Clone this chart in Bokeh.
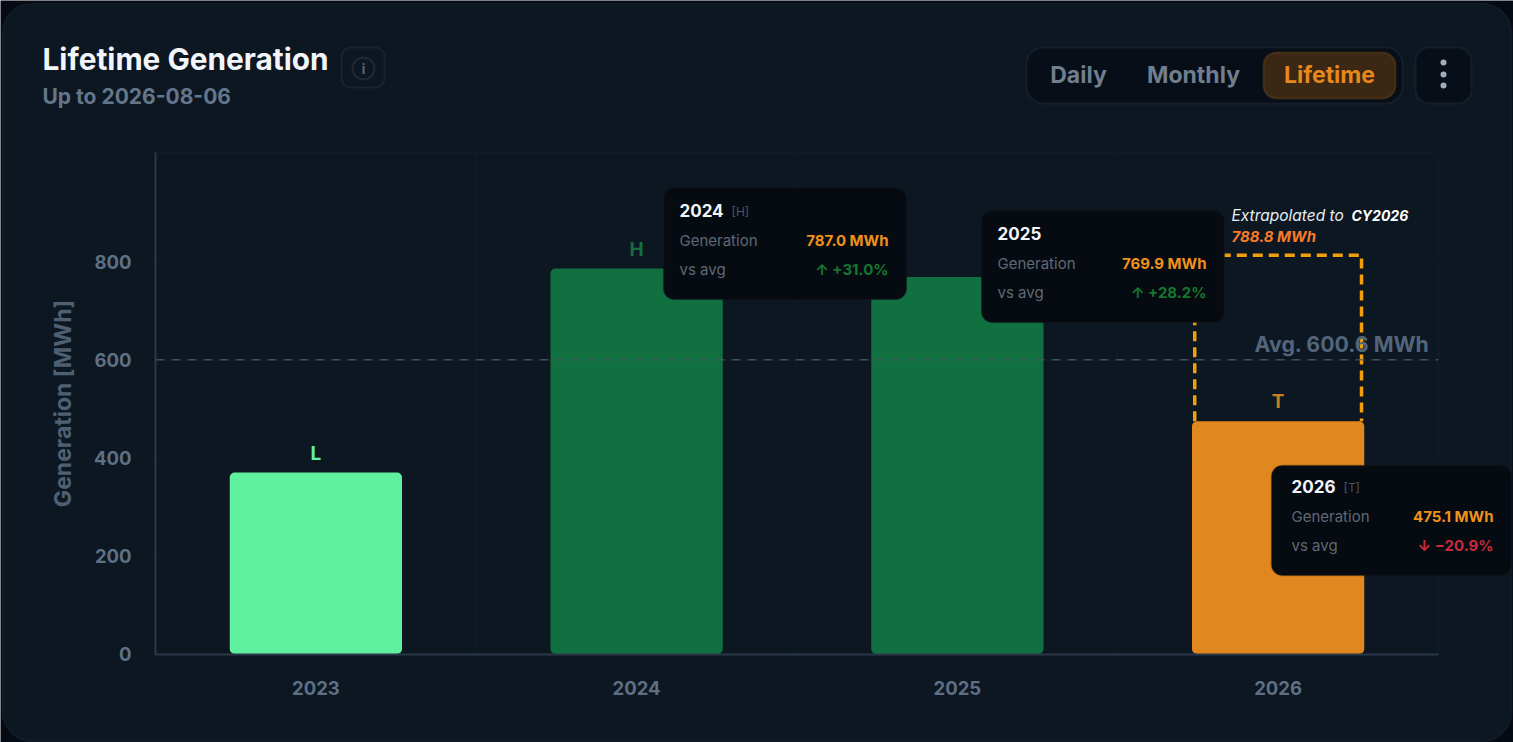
from bokeh.plotting import figure
from bokeh.models import BoxAnnotation, Label, Range1d, FixedTicker
from bokeh.core.properties import value
from bokeh.embed import file_html
from bokeh.resources import INLINE

years = ["2023", "2024", "2025", "2026"]
generation = [370.4, 787.0, 769.9, 475.1]
markers = ["L", "H", "", "T"]
bar_colors = ["#5ff0a0", "#107040", "#107040", "#e0871f"]
marker_colors = ["#5ff0a0", "#12703f", "#12703f", "#c47f22"]
y_ticks = [0, 200, 400, 600, 800]
x_grid_lines = [0, 1, 2, 3, 4]
average = 600.6
extrapolated_top = 814.0

FONT = "Inter"
CARD = "#0c1722"
PAGE = "#050a14"
W, H = 1513, 742
# plot area inside the page: the frame fills the canvas, the axes sit inside it
FL, FR, FT, FB = 155.0, 1438.0, 152.0, 653.5
YMAX = 1024.0
XS = (FR - FL) / 4
YS = (FB - FT) / YMAX

p = figure(width=W, height=H, output_backend="svg", toolbar_location=None,
           x_range=Range1d(-FL / XS, (W - FL) / XS),
           y_range=Range1d((FB - H) / YS, FB / YS),
           min_border=0, background_fill_color=PAGE, border_fill_color=PAGE,
           outline_line_color=None, margin=(0, 0, 0, 0))

centers = [i + 0.5 for i in range(len(years))]

def box(l, t, r, b, fill, line=None, radius=0, lw=1.5, level="annotation", alpha=1.0):
    a = BoxAnnotation(left=l, right=r, top=t, bottom=b,
                      left_units="canvas", right_units="canvas", top_units="canvas", bottom_units="canvas",
                      fill_color=fill, fill_alpha=alpha, line_color=line, line_width=lw,
                      border_radius=radius, level=level)
    p.add_layout(a)
    return a

def text(px, py, s, color, size, style="normal", align="left", font=FONT):
    a = Label(x=px, y=py, x_units="canvas", y_units="canvas", text=s, text_color=color,
              text_font_size=f"{size}px", text_font=font, text_font_style=style, text_align=align,
              text_baseline="middle", level="annotation")
    p.add_layout(a)
    return a

# card
box(2, 3, 1511, 741, CARD, "#263240", 30, 2, level="image")

# axes
xa, ya = p.xaxis[0], p.yaxis[0]
xa.fixed_location = 0
ya.fixed_location = 0
xa.bounds = (0, 4)
ya.bounds = (0, YMAX)
xa.ticker = FixedTicker(ticks=centers)
xa.major_label_overrides = {c: y for c, y in zip(centers, years)}
ya.ticker = FixedTicker(ticks=y_ticks)
for ax in (xa, ya):
    ax.major_tick_line_color = None
    ax.minor_tick_line_color = None
    ax.axis_line_color = "#2a3848"
    ax.axis_line_width = 2
    ax.major_label_text_color = "#5f7084"
    ax.major_label_text_font = FONT
    ax.major_label_text_font_size = "18.5px"
    ax.major_label_text_font_style = "bold"
xa.major_label_standoff = 21
ya.major_label_standoff = 18
ya.axis_label = "Generation [MWh]"
ya.axis_label_text_color = "#4f6073"
ya.axis_label_text_font = FONT
ya.axis_label_text_font_size = "23px"
ya.axis_label_text_font_style = "bold"
ya.axis_label_standoff = 14

p.xgrid.visible = False
p.ygrid.visible = False
grid_color = "#101c2a"
p.segment(x0=x_grid_lines, x1=x_grid_lines, y0=0, y1=YMAX, line_color=grid_color, line_width=1)
p.segment(x0=0, x1=4, y0=y_ticks, y1=y_ticks, line_color=grid_color, line_width=1)
p.segment(x0=[0], x1=[4], y0=[YMAX], y1=[YMAX], line_color=grid_color, line_width=1)

# bars
p.vbar(x=centers, top=generation, width=0.537, bottom=0, fill_color=bar_colors,
       line_color=None, border_radius=5)
p.text(x=centers, y=generation, text=markers, text_color=marker_colors,
       text_font=value(FONT), text_font_size="19px", text_font_style="bold",
       text_align="center", text_baseline="bottom", y_offset=-8)

# extrapolation outline
c26, v26 = centers[3], generation[3]
p.line(x=[c26 - 0.26, c26 - 0.26, c26 + 0.26, c26 + 0.26],
       y=[v26, extrapolated_top, extrapolated_top, v26],
       line_color="#f59e0b", line_width=3.5, line_dash="10 6", line_join="round")

# average
p.line(x=[0, 4], y=[average, average], line_color="#4a5a6c",
       line_width=1.5, line_dash="9 7", line_alpha=0.8)
text(1429, 343, "Avg. 600.6 MWh", "#53657a", 21.3, "bold", "right")
text(1231, 215, "Extrapolated to", "#e8edf2", 15.5, "italic")
text(1351, 215, "CY2026", "#ffffff", 14, "bold italic")
text(1231, 236, "788.8 MWh", "#f97a2a", 15, "bold italic")

# header
text(42, 58, "Lifetime Generation", "#f2f5f9", 29.8, "bold")
text(42, 96, "Up to 2026-08-06", "#64768a", 21, "bold")
box(341, 47, 384, 87, None, "#323e4c", 9, 2)
box(352, 57, 374, 79, None, "#46525f", 11, 2)
text(363, 68, "i", "#5a6775", 13, "bold", "center")

box(1026, 47, 1402, 103, "#070e17", "#303c4a", 17, 2)
box(1263, 52, 1395, 98, "#3a2814", "#8c5a1d", 13, 2)
text(1078, 74, "Daily", "#707e8e", 23, "bold", "center")
text(1193, 74, "Monthly", "#707e8e", 23, "bold", "center")
text(1329, 74, "Lifetime", "#e8871e", 23, "bold", "center")
box(1415, 47, 1471, 103, "#070e17", "#303c4a", 14, 2)
for cy in (62, 74, 85):
    box(1440, cy - 3, 1446, cy + 3, "#a0adbb", None, 3)

# tooltips
TIP = "#060b12"
def tip(l, t, year, tag, gen, delta, color, r=243, b=112, pad=16, dy=0):
    box(l, t, l + r, t + b, TIP, "#1d1a16", 11, 1.5)
    text(l + pad, t + 23 + dy, year, "#f2f5f9", 17, "bold")
    text(l + pad + 52, t + 24 + dy, tag, "#4a5461", 12)
    text(l + pad, t + 53 + dy, "Generation", "#5f6875", 15)
    text(l + r - 18, t + 53 + dy, gen, "#f0921a", 15, "bold", "right")
    text(l + pad, t + 82 + dy, "vs avg", "#5f6875", 15)
    text(l + r - 18, t + 82 + dy, delta, color, 15, "bold", "right")

tip(663, 187, "2024", "[H]", "787.0 MWh", "↑ +31.0%", "#15772e")
tip(981, 210, "2025", "", "769.9 MWh", "↑ +28.2%", "#15772e")
tip(1271, 465, "2026", "[T]", "475.1 MWh", "↓ −20.9%", "#c92a3a", r=240, b=110, pad=20, dy=-2)

open("out.html", "w").write(file_html(p, INLINE))
